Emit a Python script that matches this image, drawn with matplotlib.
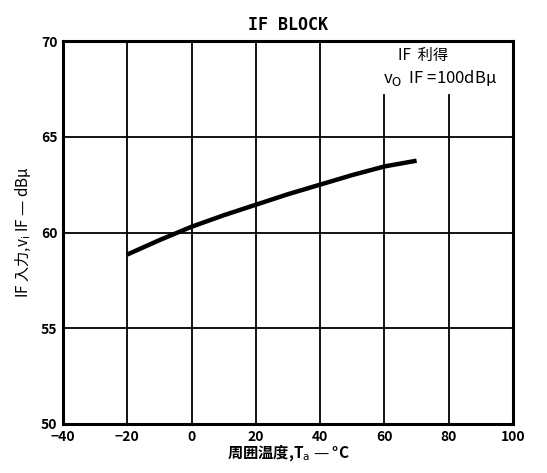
import matplotlib
matplotlib.use("Agg")
import matplotlib.pyplot as plt
import numpy as np

plt.rcParams['font.family'] = ['Noto Sans CJK JP', 'DejaVu Sans']

temp = [-20, -10, 0, 10, 20, 30, 40, 50, 60, 70]
vin = [58.85, 59.6, 60.3, 60.9, 61.45, 62.0, 62.5, 63.0, 63.45, 63.75]

xticks = [-40, -20, 0, 20, 40, 60, 80, 100]
xticklabels = ['−40', '−20', '0', '20', '40', '60', '80', '100']
yticks = [50, 55, 60, 65, 70]

fig = plt.figure(figsize=(5.47, 4.73), dpi=100)
ax = fig.add_axes([0.115, 0.1036, 0.823, 0.8097])
ax.set_xlim(-40, 100)
ax.set_ylim(50, 70)

# grid
for x in xticks[1:-1]:
    top = 1.0 if x not in (60, 80) else 0.86
    ax.axvline(x, ymin=0, ymax=top, color='black', lw=1.3, zorder=1)
for y in yticks[1:-1]:
    ax.axhline(y, color='black', lw=1.3, zorder=1)

ax.plot(temp, vin, color='black', lw=3.2, solid_capstyle='butt', zorder=3)

for s in ax.spines.values():
    s.set_linewidth(2.2)

ax.set_xticks(xticks)
ax.set_xticklabels(xticklabels)
ax.set_yticks(yticks)
ax.tick_params(length=0, labelsize=10, pad=4)
for lab in ax.get_xticklabels() + ax.get_yticklabels():
    lab.set_fontweight('bold')

ax.set_title('IF BLOCK', fontsize=12, family='DejaVu Sans Mono', fontweight='bold', pad=8)
ax.set_xlabel('周囲温度,T$_{\\mathrm{a}}$ — °C', fontsize=11, fontweight='bold', labelpad=0)
ax.set_ylabel('IF 入力,v$_{\\mathrm{i}}$ IF — dBμ', fontsize=11, labelpad=6)

ax.text(0.745, 0.985, 'IF  利得', transform=ax.transAxes, fontsize=11, va='top', ha='left')
ax.text(0.71, 0.93, 'v$_{\\mathrm{O}}$  IF =100dBμ', transform=ax.transAxes, fontsize=12, va='top', ha='left')

fig.savefig('out.png', dpi=100)
